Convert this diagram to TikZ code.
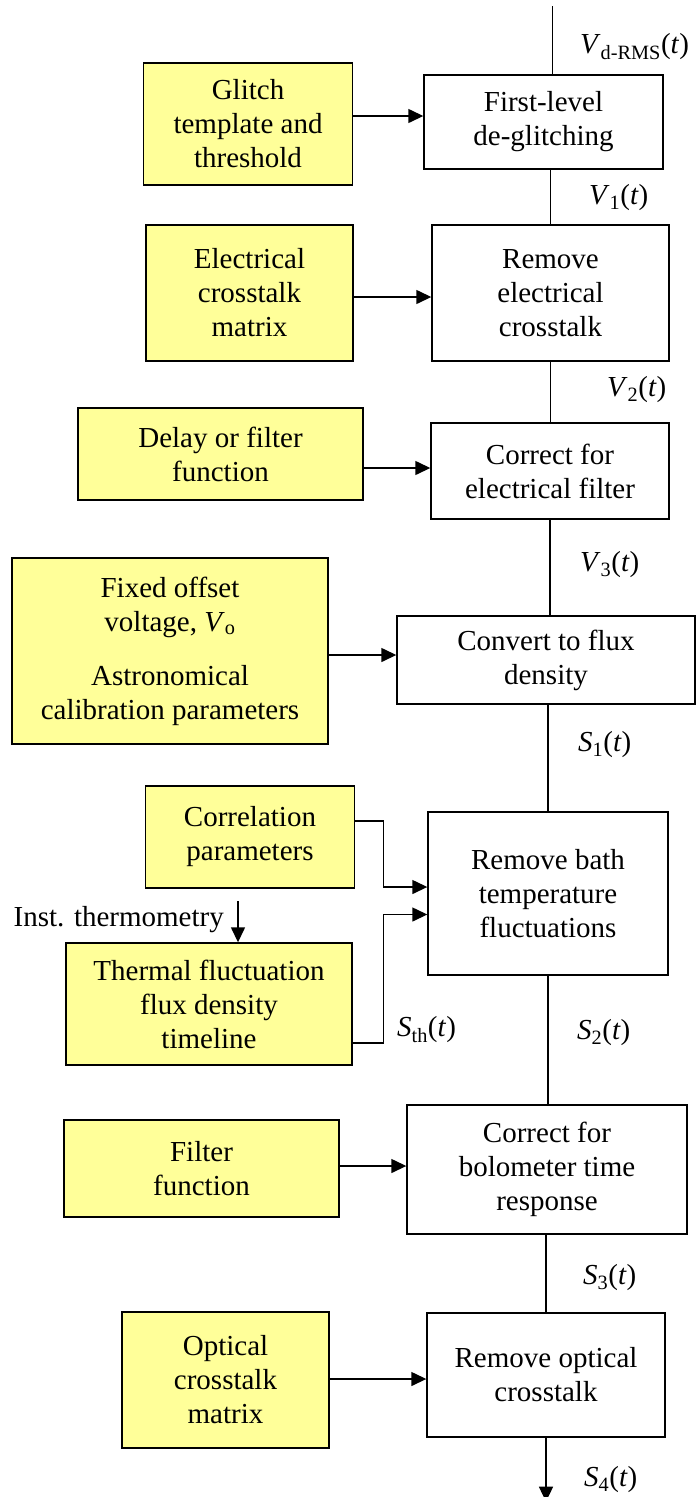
\documentclass[tikz,border=0pt]{standalone}
\usepackage{fontspec}
\setmainfont{Liberation Serif}
\usetikzlibrary{arrows.meta}

\definecolor{paramfill}{HTML}{FFFF99}
\newcommand{\sigt}[2]{\textit{#1}\textsubscript{#2}(\textit{t})}

\begin{document}
\begin{tikzpicture}
        [x=1pt, y=-1pt,
        every node/.style={font=\fontsize{29pt}{34pt}\selectfont, inner sep=0pt},
        proc/.style={draw, line width=1.4pt, align=center},
        param/.style={draw, line width=1.4pt, fill=paramfill, align=center},
        spine/.style={line width=1.2pt},
        feed/.style={line width=1.4pt, -{Triangle[length=15pt,width=14pt]}},
        sig/.style={anchor=west}]

        \useasboundingbox (0,0) rectangle (696,1497);

        % processing chain
        \node[proc, minimum width=239pt, minimum height=94pt] (first) at (543.5,122) {First-level\\de-glitching};
        \node[proc, minimum width=237pt, minimum height=136pt] (remel) at (550.5,293) {Remove\\electrical\\crosstalk};
        \node[proc, minimum width=238pt, minimum height=96pt] (corel) at (550,471) {Correct for\\electrical filter};
        \node[proc, minimum width=298pt, minimum height=88pt] (conv) at (546,660) {Convert to flux\\density};
        \node[proc, minimum width=240pt, minimum height=163pt] (bath) at (548,893.5) {Remove bath\\temperature\\fluctuations};
        \node[proc, minimum width=280pt, minimum height=129pt] (bolo) at (547,1169.5) {Correct for\\bolometer time\\response};
        \node[proc, minimum width=238pt, minimum height=124pt] (ropt) at (546,1375) {Remove optical\\crosstalk};

        % inputs
        \node[param, minimum width=209pt, minimum height=122pt] (glitch) at (248,124) {Glitch\\template and\\threshold};
        \node[param, minimum width=207pt, minimum height=136pt] (elecx) at (249.5,293) {Electrical\\crosstalk\\matrix};
        \node[param, minimum width=285pt, minimum height=92pt] (delay) at (220.5,454) {Delay or filter\\function};
        \node[param, minimum width=316pt, minimum height=186pt] (fixed) at (170,651)
            {Fixed offset\\voltage, \textit{V}\textsubscript{o}\\[20pt]Astronomical\\calibration parameters};
        \node[param, minimum width=209pt, minimum height=102pt] (corr) at (250,837) {Correlation\\parameters};
        \node[param, minimum width=286pt, minimum height=122pt] (therm) at (209,1004) {Thermal fluctuation\\flux density\\timeline};
        \node[param, minimum width=275pt, minimum height=97pt] (filt) at (201.5,1168.5) {Filter\\function};
        \node[param, minimum width=207pt, minimum height=136pt] (optx) at (225.5,1380) {Optical\\crosstalk\\matrix};

        % main signal line
        \coordinate (in) at ([shift={(9pt,68pt)}]first.north);
        \coordinate (out) at ([yshift=-64pt]ropt.south);
        \draw[spine] (in) -- (in |- first.north);
        \draw[spine] (remel.north |- first.south) -- (remel.north);
        \draw[spine] (remel.south) -- (remel.south |- corel.north);
        \draw[spine] (corel.south) -- (corel.south |- conv.north);
        \draw[spine] (bath.north |- conv.south) -- (bath.north);
        \draw[spine] (bath.south) -- (bath.south |- bolo.north);
        \draw[spine] (ropt.north |- bolo.south) -- (ropt.north);
        \draw[feed] (ropt.south) -- (out);

        \node[sig] (vrms) at (580,47) {\sigt{V}{d-RMS}};
        \node[sig] (v1) at (589,198) {\sigt{V}{1}};
        \node[sig] (v2) at (607,390) {\sigt{V}{2}};
        \node[sig] (v3) at (580,565) {\sigt{V}{3}};
        \node[sig] (s1) at (578,745) {\sigt{S}{1}};
        \node[sig] (s2) at (577,1033) {\sigt{S}{2}};
        \node[sig] (s3) at (583,1278) {\sigt{S}{3}};
        \node[sig] (s4) at (584,1480) {\sigt{S}{4}};

        % inputs into the chain
        \draw[feed] ([yshift=6pt]first.west -| glitch.east) -- ([yshift=6pt]first.west);
        \draw[feed] ([yshift=-4pt]remel.west -| elecx.east) -- ([yshift=-4pt]remel.west);
        \draw[feed] ([yshift=3pt]corel.west -| delay.east) -- ([yshift=3pt]corel.west);
        \draw[feed] ([yshift=5pt]conv.west -| fixed.east) -- ([yshift=5pt]conv.west);
        \draw[feed] ([yshift=3.5pt]bolo.west -| filt.east) -- ([yshift=3.5pt]bolo.west);
        \draw[feed] ([yshift=-4pt]ropt.west -| optx.east) -- ([yshift=-4pt]ropt.west);

        % two inputs into the bath correction
        \draw[feed] ([yshift=16pt]corr.east) -- ++(28,0) |- ([yshift=6.5pt]bath.west);
        \draw[feed] ([yshift=-39pt]therm.east) -- ++(31,0) |- ([yshift=-21pt]bath.west);
        \node[sig] (sth) at (397,1030) {\sigt{S}{th}};

        % thermometry feeding the timeline
        \coordinate (thermo) at ([shift={(29pt,41pt)}]therm.north);
        \draw[feed] (thermo) -- (thermo |- therm.north);
        \node[anchor=east] (instlbl) at ([shift={(-14pt,-18pt)}]thermo) {Inst. thermometry};
    \end{tikzpicture}
\end{document}
